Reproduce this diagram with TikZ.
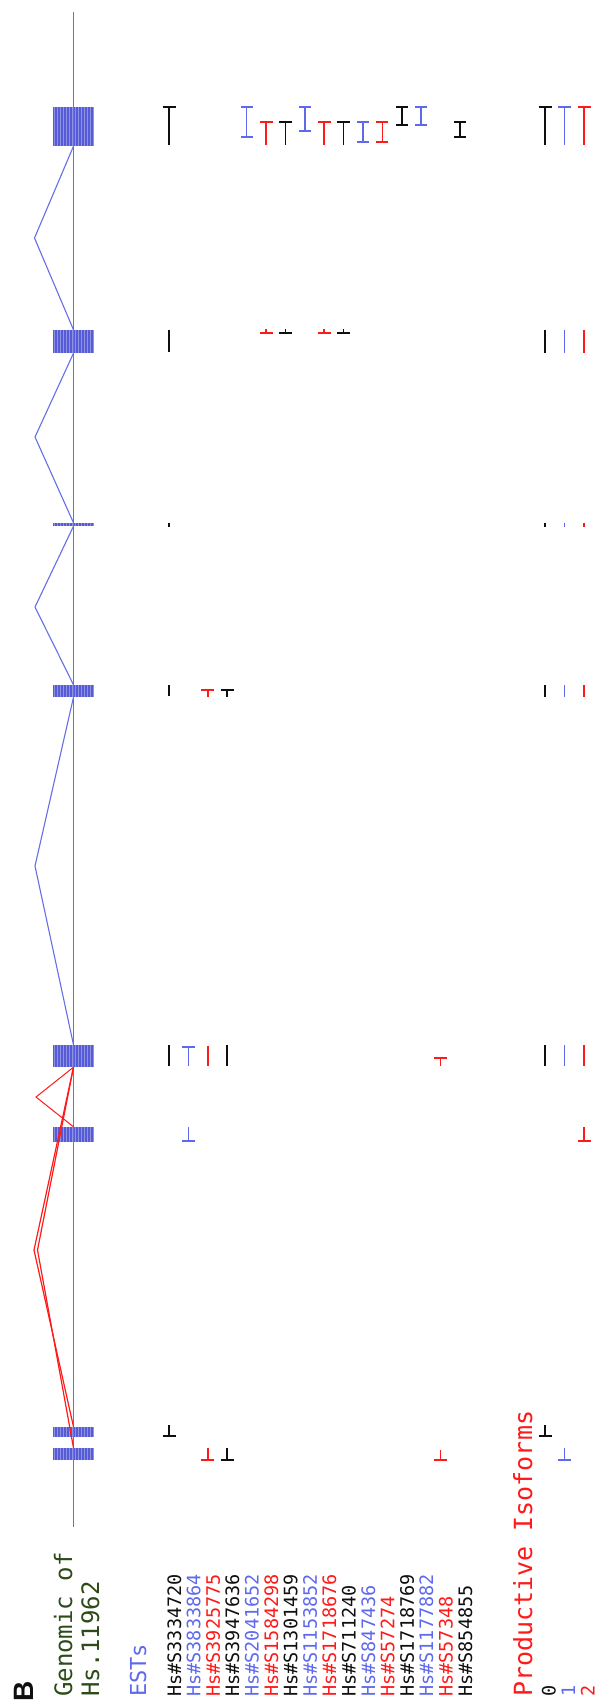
\documentclass[tikz,border=0pt]{standalone}
\usepackage{fontspec}
\newfontfamily\monof{DejaVu Sans Mono}
\newfontfamily\sansf{Liberation Sans}
\definecolor{lblue}{RGB}{100,110,230}
\definecolor{eblue}{RGB}{95,105,235}
\definecolor{ered}{RGB}{255,25,25}
\definecolor{eblack}{RGB}{15,15,15}
\definecolor{exfill}{RGB}{85,90,215}
\definecolor{gtext}{RGB}{45,75,25}
\tikzset{
  mk/.style={line width=1.5pt},
  intron/.style={draw=lblue, line width=1.1pt},
  rintron/.style={draw=ered, line width=1pt},
  lab/.style={rotate=90, anchor=base west, inner sep=0pt, font=\monof\fontsize{18.5}{20}\selectfont},
  exon/.style={rectangle, inner sep=0pt, minimum width=41pt, fill=exfill,
    path picture={\foreach \k in {0,...,13}
      \draw[white, opacity=0.35, line width=0.6pt]
        ([xshift=\k*3pt+1.5pt]path picture bounding box.north west) --
        ([xshift=\k*3pt+1.5pt]path picture bounding box.south west);}},
}
\newcommand\mkL[4]{\draw[mk,#1] (#2,#3) -- (#2,#4);}
\newcommand\mkT[4]{\draw[mk,#1] (#2,#4) -- (#2,#3) ++(-6.5,0) -- ++(13,0);}
\newcommand\mkB[4]{\draw[mk,#1] (#2,#3) -- (#2,#4) ++(-6.5,0) -- ++(13,0);}
\newcommand\mkI[4]{\draw[mk,#1] (#2,#3) ++(-6,0) -- ++(12,0) (#2,#3) -- (#2,#4) ++(-6,0) -- ++(12,0);}
\begin{document}
\begin{tikzpicture}[x=1pt,y=-1pt]
\useasboundingbox (0,0) rectangle (597,1703);
% exons
\node[exon, minimum height=39pt] (e1) at (73.5,126.5) {};
\node[exon, minimum height=23pt] (e2) at (73.5,341.5) {};
\node[exon, minimum height=3pt] (e3) at (73.5,524.5) {};
\node[exon, minimum height=12pt] (e4) at (73.5,691) {};
\node[exon, minimum height=22pt] (e5) at (73.5,1056) {};
\node[exon, minimum height=15pt] (e6) at (73.5,1134.5) {};
\node[exon, minimum height=10pt] (e7) at (73.5,1432) {};
\node[exon, minimum height=12pt] (e8) at (73.5,1454) {};
% genomic line
\coordinate (gtop) at (73.5,12);
\coordinate (gbot) at (73.5,1527);
\draw[lblue, line width=1.3pt] (gtop) -- (gbot);
% introns
\coordinate (p12) at (34.5,238);
\coordinate (p23) at (35,437);
\coordinate (p34) at (35,607);
\coordinate (p45) at (35,866);
\coordinate (p56) at (36,1097);
\coordinate (p57) at (34,1250);
\coordinate (p58) at (37.5,1250);
\draw[intron] (e1.south) -- (p12) -- (e2.north);
\draw[intron] (e2.south) -- (p23) -- (e3.north);
\draw[intron] (e3.south) -- (p34) -- (e4.north);
\draw[intron] (e4.south) -- (p45) -- (e5.north);
\draw[rintron] (e5.south) -- (p56) -- (e6.north);
\draw[rintron, line width=1.2pt] (e5.south) -- (p57) -- (e7.north);
\draw[rintron, line width=1.2pt] (e5.south) -- (p58) -- (e8.north);
% labels
\node[lab, font=\sansf\bfseries\fontsize{28}{30}\selectfont, text=eblack] (lB) at (33,1702) {B};
\node[lab, font=\monof\fontsize{24}{26}\selectfont, text=gtext] (lgen) at (72,1697) {Genomic of};
\node[lab, font=\monof\fontsize{24}{26}\selectfont, text=gtext] (lhs) at (99,1697) {Hs.11962};
\node[lab, font=\monof\fontsize{22}{24}\selectfont, text=eblue] (lest) at (146,1697) {ESTs};
\node[lab, text=eblack] (l0) at (181,1697) {Hs\#S3334720};
\node[lab, text=eblue] (l1) at (200.4,1697) {Hs\#S3833864};
\node[lab, text=ered] (l2) at (219.8,1697) {Hs\#S3925775};
\node[lab, text=eblack] (l3) at (239.2,1697) {Hs\#S3947636};
\node[lab, text=eblue] (l4) at (258.6,1697) {Hs\#S2041652};
\node[lab, text=ered] (l5) at (278,1697) {Hs\#S1584298};
\node[lab, text=eblack] (l6) at (297.4,1697) {Hs\#S1301459};
\node[lab, text=eblue] (l7) at (316.8,1697) {Hs\#S1153852};
\node[lab, text=ered] (l8) at (336.2,1697) {Hs\#S1718676};
\node[lab, text=eblack] (l9) at (355.6,1697) {Hs\#S711240};
\node[lab, text=eblue] (l10) at (375,1697) {Hs\#S847436};
\node[lab, text=ered] (l11) at (394.4,1697) {Hs\#S57274};
\node[lab, text=eblack] (l12) at (413.8,1697) {Hs\#S1718769};
\node[lab, text=eblue] (l13) at (433.2,1697) {Hs\#S1177882};
\node[lab, text=ered] (l14) at (452.6,1697) {Hs\#S57348};
\node[lab, text=eblack] (l15) at (472,1697) {Hs\#S854855};
\node[lab, font=\monof\fontsize{25}{27}\selectfont, text=ered] (lprod) at (532,1697) {Productive Isoforms};
\node[lab, text=eblack] (i0) at (555.5,1697) {0};
\node[lab, text=eblue] (i1) at (575,1697) {1};
\node[lab, text=ered] (i2) at (594.5,1697) {2};
% exon 1 marks
\mkT{eblack}{169}{107}{145}
\mkI{eblue}{246.6}{107}{137}
\mkT{ered}{266}{122}{145}
\mkT{eblack}{285.4}{122}{145}
\mkI{eblue}{304.8}{107}{131}
\mkT{ered}{324.2}{122}{145}
\mkT{eblack}{343.6}{122}{145}
\mkI{eblue}{363}{122}{142}
\mkI{ered}{382.4}{122}{142}
\mkI{eblack}{401.8}{107}{125}
\mkI{eblue}{421.2}{107}{125}
\mkI{eblack}{460}{122}{137}
\mkT{eblack}{545}{107}{145}
\mkT{eblue}{564.5}{107}{145}
\mkT{ered}{584}{107}{145}
% exon 2 marks
\mkL{eblack}{169}{330}{352}
\mkB{ered}{266}{329}{333}
\mkB{eblack}{285.4}{329}{333}
\mkB{ered}{324.2}{329}{333}
\mkB{eblack}{343.6}{329}{333}
\mkL{eblack}{545}{330}{353}
\mkL{eblue}{564.5}{330}{353}
\mkL{ered}{584}{330}{353}
% exon 3 marks
\mkL{eblack}{169}{522.5}{526.5}
\mkL{eblack}{545}{522.5}{526.5}
\mkL{eblue}{564.5}{522.5}{526.5}
\mkL{ered}{584}{522.5}{526.5}
% exon 4 marks
\mkL{eblack}{169}{685}{696}
\mkT{ered}{207.8}{690}{697}
\mkT{eblack}{227.2}{690}{697}
\mkL{eblack}{545}{685}{697}
\mkL{eblue}{564.5}{685}{697}
\mkL{ered}{584}{685}{697}
% exon 5 marks
\mkL{eblack}{169}{1045}{1066}
\mkT{eblue}{188.4}{1047}{1066}
\mkL{ered}{207.8}{1046}{1066}
\mkL{eblack}{227.2}{1045}{1066}
\mkT{ered}{440.6}{1058}{1066}
\mkL{eblack}{545}{1045}{1066}
\mkL{eblue}{564.5}{1045}{1066}
\mkL{ered}{584}{1045}{1066}
% exon 6 marks
\mkB{eblue}{188.4}{1127}{1141}
\mkB{ered}{584}{1127}{1141}
% exon 7 marks
\mkB{eblack}{169}{1425}{1436}
\mkB{eblack}{545}{1425}{1436}
% exon 8 marks
\mkB{ered}{207.8}{1448}{1460}
\mkB{eblack}{227.2}{1448}{1460}
\mkB{ered}{440.6}{1450}{1460}
\mkB{eblue}{564.5}{1448}{1460}
\end{tikzpicture}
\end{document}
